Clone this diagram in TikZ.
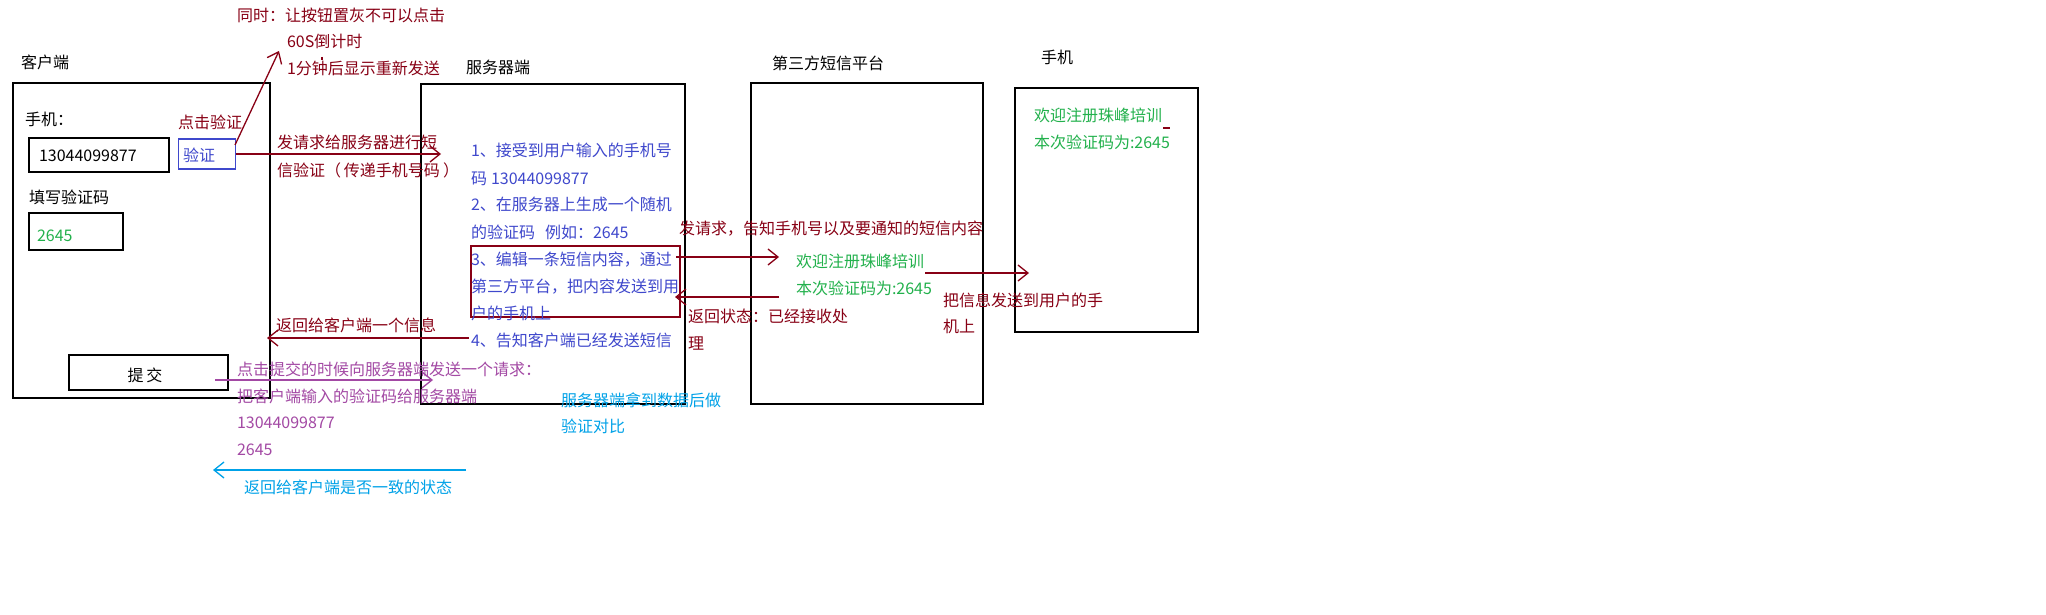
\documentclass[tikz,border=0pt]{standalone}
\usepackage{fontspec}
\newfontfamily\cjk{Noto Sans CJK SC}
\usetikzlibrary{arrows.meta}
\definecolor{cdr}{HTML}{880015}
\definecolor{cbl}{HTML}{3F48CC}
\definecolor{cgr}{HTML}{22B14C}
\definecolor{ccy}{HTML}{00A2E8}
\definecolor{cpu}{HTML}{A349A4}
\tikzset{
  txt/.style={font=\cjk\fontsize{16}{16}\selectfont, inner sep=0pt, outer sep=0pt, anchor=base west},
  frame/.style={draw=black, line width=1.3pt, inner sep=0pt, outer sep=0pt, anchor=north west},
  conn/.style={line width=1.3pt, -{Straight Barb[length=10pt,width=16pt]}},
}
\begin{document}
\begin{tikzpicture}[x=1pt,y=-1pt]
\fill[white] (0,0) rectangle (2046,615);
\useasboundingbox (0,0) rectangle (2046,615);

% boxes
\node[frame, minimum width=257pt, minimum height=315pt] (client) at (13,83) {};
\node[frame, minimum width=264pt, minimum height=320pt] (server) at (421,84) {};
\node[frame, minimum width=232pt, minimum height=321pt] (third) at (751,83) {};
\node[frame, minimum width=183pt, minimum height=244pt] (phonebox) at (1015,88) {};
\node[frame, minimum width=140pt, minimum height=34pt] (numbox) at (29,138) {};
\node[frame, draw=cbl, minimum width=57pt, minimum height=30pt] (yzbox) at (178.5,139) {};
\node[frame, minimum width=94pt, minimum height=37pt] (codebox) at (29,213) {};
\node[frame, minimum width=159pt, minimum height=35pt] (submitbox) at (69,355) {};
\node[frame, draw=cdr, minimum width=209pt, minimum height=71pt] (step3box) at (471,246) {};

% titles
\node[txt] (lclient) at (21,69) {客户端};
\node[txt] (lserver) at (466,74) {服务器端};
\node[txt] (lthird) at (772,70) {第三方短信平台};
\node[txt] (lphone) at (1041,64) {手机};

% client contents
\node[txt] (sj) at (25,126) {手机：};
\node[txt] (num) at (39,162) {13044099877};
\node[txt, text=cdr] (djyz) at (178,129) {点击验证};
\node[txt, text=cbl] (yz) at (183,161) {验证};
\node[txt] (txyzm) at (29,203) {填写验证码};
\node[txt, text=cgr] (code) at (37,241) {2645};
\node[txt, anchor=base] (submit) at (145,381) {提\hspace{3pt}交};

% top note
\node[txt, text=cdr] (note1) at (237,22) {同时：让按钮置灰不可以点击};
\node[txt, text=cdr] (note2) at (287,48) {60S倒计时};
\node[txt, text=cdr] (note3) at (287,75) {1分钟后显示重新发送};

% request label
\node[txt, text=cdr] (req1) at (277,149) {发请求给服务器进行短};
\node[txt, text=cdr] (req2) at (277,176) {信验证（\hspace{3pt}传递手机号码\hspace{3pt}）};

% server text
\node[txt, text=cbl] (s1) at (471,157) {1、接受到用户输入的手机号};
\node[txt, text=cbl] (s2) at (471,184) {码\hspace{4pt}13044099877};
\node[txt, text=cbl] (s3) at (471,211) {2、在服务器上生成一个随机};
\node[txt, text=cbl] (s4) at (471,238) {的验证码\hspace{10pt}例如：2645};
\node[txt, text=cbl] (s5) at (471,265) {3、编辑一条短信内容，通过};
\node[txt, text=cbl] (s6) at (471,292) {第三方平台，把内容发送到用};
\node[txt, text=cbl] (s7) at (471,319) {户的手机上};
\node[txt, text=cbl] (s8) at (471,346) {4、告知客户端已经发送短信};

\node[txt, text=cdr] (back1) at (276,331) {返回给客户端一个信息};

% submit request
\node[txt, text=cpu] (p1) at (237,375) {点击提交的时候向服务器端发送一个请求：};
\node[txt, text=cpu] (p2) at (237,402) {把客户端输入的验证码给服务器端};
\node[txt, text=cpu] (p3) at (237,428) {13044099877};
\node[txt, text=cpu] (p4) at (237,455) {2645};

\node[txt, text=ccy] (c1) at (561,406) {服务器端拿到数据后做};
\node[txt, text=ccy] (c2) at (561,432) {验证对比};
\node[txt, text=ccy] (c3) at (244,493) {返回给客户端是否一致的状态};

% third party
\node[txt, text=cdr] (treq) at (679,234) {发请求，告知手机号以及要通知的短信内容};
\node[txt, text=cgr] (m1) at (796,267) {欢迎注册珠峰培训};
\node[txt, text=cgr] (m2) at (796,294) {本次验证码为:2645};
\node[txt, text=cdr] (ret1) at (688,322) {返回状态：已经接收处};
\node[txt, text=cdr] (ret2) at (688,349) {理};

% phone
\node[txt, text=cgr] (pm1) at (1034,122) {欢迎注册珠峰培训};
\node[txt, text=cgr] (pm2) at (1034,149) {本次验证码为:2645};
\node[txt, text=cdr] (snd1) at (943,306) {把信息发送到用户的手};
\node[txt, text=cdr] (snd2) at (943,332) {机上};

% connector end points
\coordinate (aS) at (235,145);
\coordinate (aE) at (279,51);
\coordinate (bE) at (441,154);
\coordinate (cS) at (469,338);
\coordinate (cE) at (267,338);
\coordinate (dS) at (215,380);
\coordinate (dE) at (433,380);
\coordinate (eS) at (466,470);
\coordinate (eE) at (213,470);
\coordinate (fS) at (676,257);
\coordinate (fE) at (779,257);
\coordinate (gS) at (779,297);
\coordinate (gE) at (675,297);
\coordinate (hS) at (925,273);
\coordinate (hE) at (1029,273);

\draw[conn, cdr] (aS) -- (aE);
\draw[conn, cdr] (yzbox.east) -- (bE);
\draw[conn, cdr] (cS) -- (cE);
\draw[conn, cpu] (dS) -- (dE);
\draw[conn, ccy] (eS) -- (eE);
\draw[conn, cdr] (fS) -- (fE);
\draw[conn, cdr] (gS) -- (gE);
\draw[conn, cdr] (hS) -- (hE);

% small stray marks
\draw[cdr, line width=1.3pt] (322,57) -- (322,60);
\draw[cdr, line width=1.3pt] (1163,128) -- (1170,128);
\end{tikzpicture}
\end{document}
